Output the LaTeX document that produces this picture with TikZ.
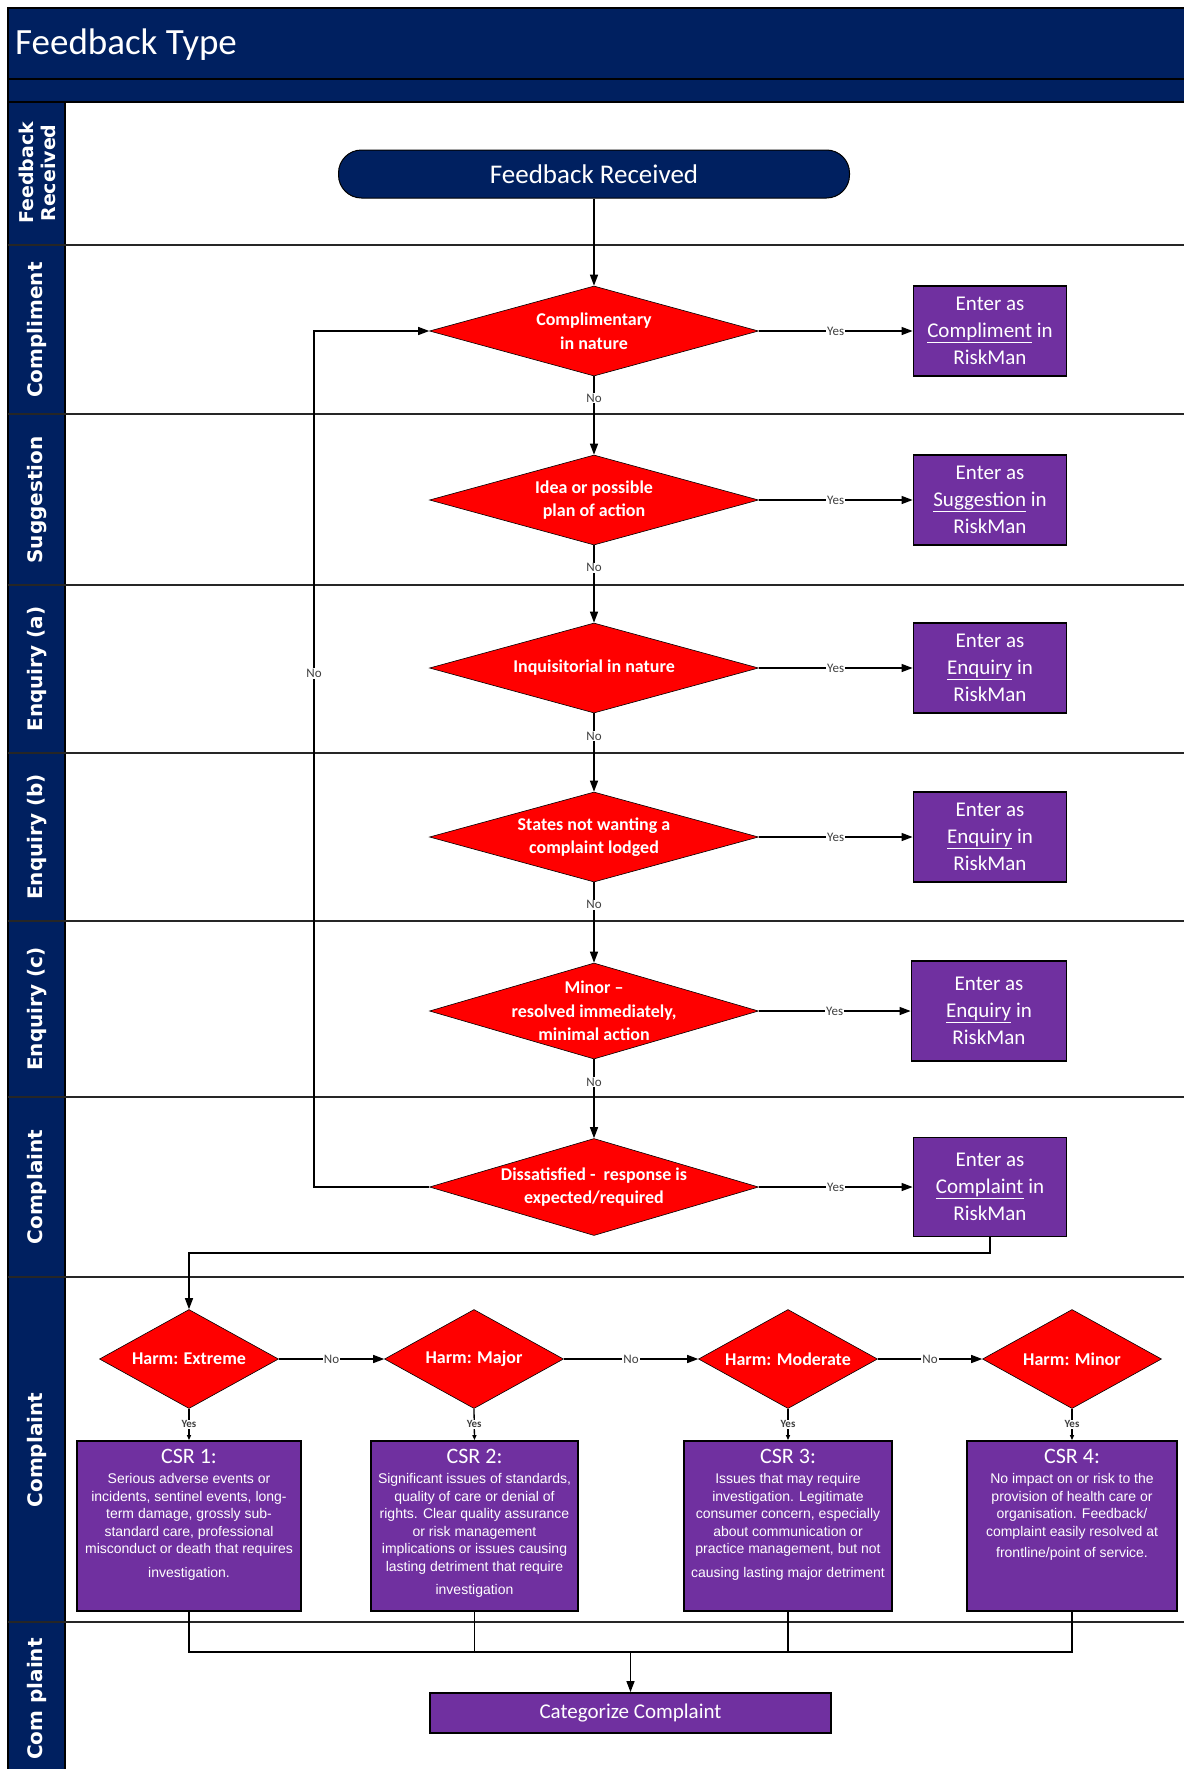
\documentclass[tikz,border=0pt]{standalone}
\usepackage{fontspec}
\setmainfont{Carlito}
\newfontfamily\lanefont{DejaVu Sans}
\newfontfamily\csrfont{Liberation Sans}
\newcommand\csrhead{\normalfont\fontsize{22}{22}\selectfont}
\usetikzlibrary{shapes.geometric,arrows.meta}
\definecolor{navy}{RGB}{0,32,96}
\definecolor{rred}{RGB}{255,0,0}
\definecolor{purp}{RGB}{112,48,160}
\definecolor{lblgray}{RGB}{64,64,64}
\begin{document}
\begin{tikzpicture}[x=1pt,y=-1pt,
  laneline/.style={draw=black!85, line width=1.6pt},
  lanetext/.style={rotate=90, text=white, font=\lanefont\bfseries\fontsize{20}{21}\selectfont, align=center, inner sep=0pt},
  decision/.style={diamond, fill=rred, draw=black, line width=0.6pt, inner sep=0pt},
  dtext/.style={text=white, align=center, font=\bfseries\fontsize{18}{23.5}\selectfont},
  htext/.style={text=white, align=center, font=\bfseries\fontsize{18}{22}\selectfont},
  enterbox/.style={rectangle, fill=purp, draw=black, line width=1.8pt, text=white, minimum width=153pt, minimum height=90pt, inner sep=0pt, align=center, font=\fontsize{21}{27}\selectfont},
  csrbox/.style={rectangle, fill=purp, draw=black, line width=1.8pt, minimum height=170pt, inner sep=0pt},
  csrtext/.style={text=white, align=center, inner sep=0pt, font=\csrfont\fontsize{14}{17.5}\selectfont},
  arr/.style={line width=1.3pt, -{Triangle[length=11pt,width=8pt]}},
  sarr/.style={line width=1.3pt, -{Triangle[length=5pt,width=4pt]}},
  plain/.style={line width=1.3pt},
  lbl/.style={fill=white, inner sep=1pt, text=lblgray, font=\fontsize{13}{13}\selectfont},
]
\useasboundingbox (0,0) rectangle (1184,1769);
\fill[white] (0,0) rectangle (1184,1769);
% title and header
\fill[navy] (8,8) rectangle (1184,102);
\fill[navy] (8,102) rectangle (65,1769);
\draw[black, line width=1.6pt] (8,1769) -- (8,8) -- (1184,8);
\draw[black, line width=1.6pt] (8,79) -- (1184,79);
\draw[black, line width=1.6pt] (8,102) -- (1184,102);
\draw[black, line width=1.6pt] (65,102) -- (65,1769);
\node[anchor=west, text=white, font=\fontsize{37}{37}\selectfont, inner sep=0pt] (title) at (15,45) {Feedback Type};
% lane lines
\foreach \yy in {245,414,585,753,921,1097,1277,1622}
  \draw[laneline] (8,\yy) -- (1184,\yy);
% lane labels
\node[lanetext, font=\lanefont\bfseries\fontsize{19}{22}\selectfont] (L1) at (37,173) {Feedback\\Received};
\node[lanetext] (L2) at (37,330) {Compliment};
\node[lanetext] (L3) at (37,500) {Suggestion};
\node[lanetext] (L4) at (37,669) {Enquiry (a)};
\node[lanetext] (L5) at (37,837) {Enquiry (b)};
\node[lanetext] (L6) at (37,1009) {Enquiry (c)};
\node[lanetext] (L7) at (37,1187) {Complaint};
\node[lanetext] (L8) at (37,1450) {Complaint};
\node[lanetext] (L9) at (37,1699) {Com plaint};
% start node
\node[rectangle, rounded corners=23pt, fill=navy, draw=black, line width=1pt, minimum width=511pt, minimum height=48pt, text=white, font=\fontsize{27}{27}\selectfont] (fb) at (594,174) {Feedback Received};
% decisions
\node[decision, minimum width=329pt, minimum height=90pt, label={[dtext]center:Complimentary\\in nature}] (d1) at (594,331) {};
\node[decision, minimum width=329pt, minimum height=90pt, label={[dtext]center:Idea or possible\\plan of action}] (d2) at (594,500) {};
\node[decision, minimum width=329pt, minimum height=90pt, label={[dtext]center:Inquisitorial in nature}] (d3) at (594,668) {};
\node[decision, minimum width=329pt, minimum height=90pt, label={[dtext]center:States not wanting a\\complaint lodged}] (d4) at (594,837) {};
\node[decision, minimum width=329pt, minimum height=96pt, label={[dtext]center:Minor --\\resolved immediately,\\minimal action}] (d5) at (594,1011) {};
\node[decision, minimum width=329pt, minimum height=97pt, label={[dtext]center:Dissatisfied -\ \ response is\\expected/required}] (d6) at (594,1187) {};
% enter boxes
\node[enterbox] (e1) at (990,331) {Enter as\\\underline{Compliment} in\\RiskMan};
\node[enterbox] (e2) at (990,500) {Enter as\\\underline{Suggestion} in\\RiskMan};
\node[enterbox] (e3) at (990,668) {Enter as\\\underline{Enquiry} in\\RiskMan};
\node[enterbox] (e4) at (990,837) {Enter as\\\underline{Enquiry} in\\RiskMan};
\node[enterbox, minimum width=155pt, minimum height=100pt] (e5) at (989,1011) {Enter as\\\underline{Enquiry} in\\RiskMan};
\node[enterbox, minimum height=99pt] (e6) at (990,1187) {Enter as\\\underline{Complaint} in\\RiskMan};
% harm decisions
\node[decision, minimum width=179pt, minimum height=99pt, label={[htext]center:Harm: Extreme}] (h1) at (189,1359) {};
\node[decision, minimum width=179pt, minimum height=99pt, label={[htext]center:Harm: Major}] (h2) at (474,1359) {};
\node[decision, minimum width=179pt, minimum height=99pt, label={[htext]center:Harm: Moderate}] (h3) at (788,1359) {};
\node[decision, minimum width=179pt, minimum height=99pt, label={[htext]center:Harm: Minor}] (h4) at (1072,1359) {};
% CSR boxes
\node[csrbox, minimum width=224pt] (c1) at (189,1526) {};
\node[csrbox, minimum width=207pt] (c2) at (474.5,1526) {};
\node[csrbox, minimum width=208pt] (c3) at (788,1526) {};
\node[csrbox, minimum width=210pt] (c4) at (1072,1526) {};
\node[csrtext, anchor=north] (c1t) at (189,1449) {{\csrhead CSR 1:}\\[3pt]
Serious adverse events or\\incidents, sentinel events, long-\\term damage, grossly sub-\\standard care, professional\\misconduct or death that requires\\[6pt]investigation.};
\node[csrtext, anchor=north] (c2t) at (474.5,1449) {{\csrhead CSR 2:}\\[3pt]
Significant issues of standards,\\quality of care or denial of\\rights. Clear quality assurance\\or risk management\\implications or issues causing\\lasting detriment that require\\[6pt]investigation};
\node[csrtext, anchor=north] (c3t) at (788,1449) {{\csrhead CSR 3:}\\[3pt]
Issues that may require\\investigation. Legitimate\\consumer concern, especially\\about communication or\\practice management, but not\\[6pt]causing lasting major detriment};
\node[csrtext, anchor=north] (c4t) at (1072,1449) {{\csrhead CSR 4:}\\[3pt]
No impact on or risk to the\\provision of health care or\\organisation. Feedback/\\complaint easily resolved at\\[4pt]frontline/point of service.};
% final
\node[rectangle, fill=purp, draw=black, line width=1.8pt, minimum width=401pt, minimum height=40pt, text=white, font=\fontsize{21}{21}\selectfont] (cat) at (630.5,1713) {Categorize Complaint};
% connectors
\draw[arr] (fb.south) -- (d1.north);
\draw[arr] (d1.south) -- node[lbl,pos=.28]{No} (d2.north);
\draw[arr] (d2.south) -- node[lbl,pos=.29]{No} (d3.north);
\draw[arr] (d3.south) -- node[lbl,pos=.29]{No} (d4.north);
\draw[arr] (d4.south) -- node[lbl,pos=.28]{No} (d5.north);
\draw[arr] (d5.south) -- node[lbl,pos=.29]{No} (d6.north);
\draw[arr] (d1.east) -- node[lbl]{Yes} (e1.west);
\draw[arr] (d2.east) -- node[lbl]{Yes} (e2.west);
\draw[arr] (d3.east) -- node[lbl]{Yes} (e3.west);
\draw[arr] (d4.east) -- node[lbl]{Yes} (e4.west);
\draw[arr] (d5.east) -- node[lbl]{Yes} (e5.west);
\draw[arr] (d6.east) -- node[lbl]{Yes} (e6.west);
\coordinate (lpA) at (314,1187);
\coordinate (lpB) at (314,331);
\draw[arr] (d6.west) -- (lpA) -- node[lbl,pos=.6]{No} (lpB) -- (d1.west);
\coordinate (cpA) at (189,1253);
\draw[arr] (e6.south) |- (cpA) -- (h1.north);
\draw[arr] (h1.east) -- node[lbl]{No} (h2.west);
\draw[arr] (h2.east) -- node[lbl]{No} (h3.west);
\draw[arr] (h3.east) -- node[lbl]{No} (h4.west);
\draw[sarr] (h1.south) -- node[lbl, font=\bfseries\fontsize{11}{11}\selectfont]{Yes} (c1.north);
\draw[sarr] (h2.south) -- node[lbl, font=\bfseries\fontsize{11}{11}\selectfont]{Yes} (c2.north);
\draw[sarr] (h3.south) -- node[lbl, font=\bfseries\fontsize{11}{11}\selectfont]{Yes} (c3.north);
\draw[sarr] (h4.south) -- node[lbl, font=\bfseries\fontsize{11}{11}\selectfont]{Yes} (c4.north);
\coordinate (mg) at (630.5,1652);
\draw[plain] (c1.south) -- (c1.south |- mg) -- (c4.south |- mg) -- (c4.south);
\draw[plain] (c2.south) -- (c2.south |- mg);
\draw[plain] (c3.south) -- (c3.south |- mg);
\draw[arr] (mg) -- (cat.north);
\end{tikzpicture}
\end{document}
